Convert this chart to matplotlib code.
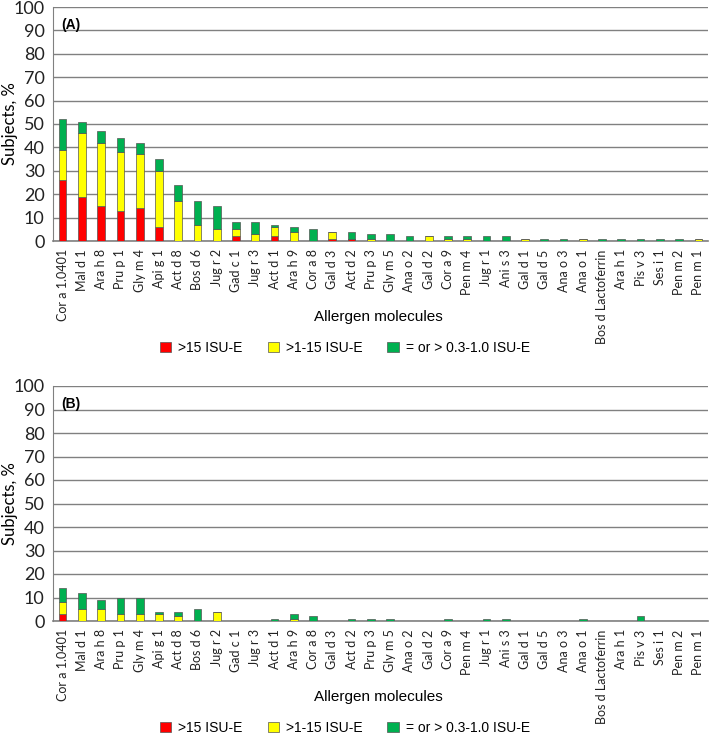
import numpy as np
import matplotlib.pyplot as plt
from matplotlib.patches import Patch

plt.rcParams['font.family'] = ['Liberation Sans', 'DejaVu Sans']

molecules = ['Cor a 1.0401', 'Mal d 1', 'Ara h 8', 'Pru p 1', 'Gly m 4', 'Api g 1',
             'Act d 8', 'Bos d 6', 'Jug r 2', 'Gad c 1', 'Jug r 3', 'Act d 1',
             'Ara h 9', 'Cor a 8', 'Gal d 3', 'Act d 2', 'Pru p 3', 'Gly m 5',
             'Ana o 2', 'Gal d 2', 'Cor a 9', 'Pen m 4', 'Jug r 1', 'Ani s 3',
             'Gal d 1', 'Gal d 5', 'Ana o 3', 'Ana o 1', 'Bos d Lactoferrin',
             'Ara h 1', 'Pis v 3', 'Ses i 1', 'Pen m 2', 'Pen m 1']

# panel A
a_high = [26, 19, 15, 13, 14, 6, 0, 0, 0, 2, 0, 2, 0, 0, 1, 1, 0, 0,
          0, 0, 0, 0, 0, 0, 0, 0, 0, 0, 0, 0, 0, 0, 0, 0]
a_mid = [13, 27, 27, 25, 23, 24, 17, 7, 5, 3, 3, 4, 4, 0, 3, 0, 1, 0,
         0, 2, 1, 1, 0, 0, 1, 0, 0, 1, 0, 0, 0, 0, 0, 1]
a_low = [13, 5, 5, 6, 5, 5, 7, 10, 10, 3, 5, 1, 2, 5, 0, 3, 2, 3,
         2, 0, 1, 1, 2, 2, 0, 1, 1, 0, 1, 1, 1, 1, 1, 0]

# panel B
b_high = [3, 0, 0, 0, 0, 0, 0, 0, 0, 0, 0, 0, 0, 0, 0, 0, 0, 0,
          0, 0, 0, 0, 0, 0, 0, 0, 0, 0, 0, 0, 0, 0, 0, 0]
b_mid = [5, 5, 5, 3, 3, 3, 2, 0, 4, 0, 0, 0, 1, 0, 0, 0, 0, 0,
         0, 0, 0, 0, 0, 0, 0, 0, 0, 0, 0, 0, 0, 0, 0, 0]
b_low = [6, 7, 4, 7, 7, 1, 2, 5, 0, 0, 0, 1, 2, 2, 0, 1, 1, 1,
         0, 0, 1, 0, 1, 1, 0, 0, 0, 1, 0, 0, 2, 0, 0, 0]

legend_labels = ['>15 ISU-E', '>1-15 ISU-E', '= or > 0.3-1.0 ISU-E']
colors = ['#FF0000', '#FFFF00', '#00B050']

W, H = 709, 734
fig = plt.figure(figsize=(W / 100, H / 100), dpi=100)


def panel(top_px, bottom_px, high, mid, low, tag):
    ax = fig.add_axes([53 / W, 1 - bottom_px / H, (W - 54) / W, (bottom_px - top_px) / H])
    x = np.arange(len(molecules))
    high = np.array(high)
    mid = np.array(mid)
    low = np.array(low)
    kw = dict(width=0.4, edgecolor='#555555', linewidth=0.5, zorder=3)
    ax.bar(x, high, color=colors[0], **kw)
    ax.bar(x, mid, bottom=high, color=colors[1], **kw)
    ax.bar(x, low, bottom=high + mid, color=colors[2], **kw)
    ax.set_xlim(-0.5, len(molecules) - 0.5)
    ax.set_ylim(0, 100)
    ax.set_yticks(range(0, 101, 10))
    ax.yaxis.grid(True, color='#808080', linewidth=1.0, zorder=0)
    ax.set_axisbelow(True)
    ax.set_xticks(x)
    ax.set_xticklabels(molecules, rotation=90, fontsize=9, color='#222222', family='Lato')
    ax.set_yticklabels([str(v) for v in range(0, 101, 10)], family='Lato')
    ax.tick_params(axis='y', labelsize=13, length=0, pad=6, colors='#222222')
    ax.tick_params(axis='x', length=0, pad=6)
    for s in ['top', 'right']:
        ax.spines[s].set_visible(False)
    ax.spines['left'].set_color('#808080')
    ax.spines['bottom'].set_color('#808080')
    ax.spines['bottom'].set_linewidth(1.2)
    ax.text(0.012, 0.955, tag, transform=ax.transAxes, fontsize=10,
            fontweight='bold', va='top', ha='left')
    yc = 1 - (top_px + bottom_px) / 2 / H
    fig.text(10 / W, yc, 'Subjects, %', rotation=90, va='center', ha='center',
             fontsize=12, family='Lato')
    fig.text(378 / W, 1 - (bottom_px + 76) / H, 'Allergen molecules',
             ha='center', va='center', fontsize=11)
    handles = [Patch(facecolor=c, edgecolor='#555555', linewidth=0.5) for c in colors]
    fig.legend(handles, legend_labels, loc='center', ncol=3, frameon=False,
               bbox_to_anchor=(345 / W, 1 - (bottom_px + 107) / H), fontsize=10,
               handlelength=0.8, handleheight=0.8, columnspacing=1.8, handletextpad=0.5)
    return ax


panel(7, 241, a_high, a_mid, a_low, '(A)')
panel(386, 621, b_high, b_mid, b_low, '(B)')

fig.savefig('out.png', dpi=100)
